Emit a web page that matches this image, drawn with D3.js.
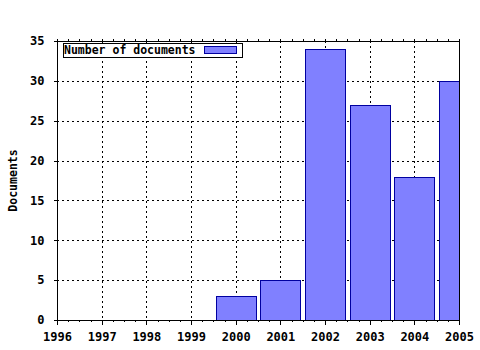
<!DOCTYPE html>
<html><head><meta charset="utf-8">
<script src="https://cdn.jsdelivr.net/npm/d3@7"></script>
<style>body{margin:0;background:#fff}svg{display:block}text{font-family:"DejaVu Sans Mono",monospace;font-weight:bold;font-size:11.5px;fill:#000}</style>
</head><body>
<script>
const years = [1996,1997,1998,1999,2000,2001,2002,2003,2004,2005];
const documents = [0,0,0,0,3,5,34,27,18,30];
const yTicks = [0,5,10,15,20,25,30,35];
const seriesName = "Number of documents";
const yLabel = "Documents";

const W=480,H=350, L=57,R=459,T=41,B=320;
const svg=d3.select("body").append("svg").attr("width",W).attr("height",H);
const x=d3.scaleLinear().domain([1996,2005]).range([L,R]);
const y=d3.scaleLinear().domain([0,35]).range([B,T]);

svg.append("defs").append("clipPath").attr("id","c").append("rect").attr("x",L).attr("y",T).attr("width",R-L).attr("height",B-T);

// grid
const g=svg.append("g").attr("stroke","#000").attr("stroke-dasharray","2,3").attr("shape-rendering","crispEdges");
years.slice(1,-1).forEach(v=>g.append("line").attr("x1",Math.round(x(v))+0.5).attr("x2",Math.round(x(v))+0.5).attr("y1",T).attr("y2",B));
yTicks.slice(1,-1).forEach(v=>g.append("line").attr("x1",L).attr("x2",R).attr("y1",Math.round(y(v))+0.5).attr("y2",Math.round(y(v))+0.5));

// bars
const bw=0.9;
svg.append("g").attr("clip-path","url(#c)").selectAll("rect").data(years.map((yr,i)=>({yr,v:documents[i]})).filter(d=>d.v>0))
 .join("rect").attr("x",d=>Math.round(x(d.yr-bw/2))+0.5).attr("width",d=>Math.round(x(d.yr+bw/2))-Math.round(x(d.yr-bw/2)))
 .attr("y",d=>Math.round(y(d.v))+0.5).attr("height",d=>Math.round(y(0))-Math.round(y(d.v)))
 .attr("fill","#8080ff").attr("stroke","#0000a0").attr("stroke-width",1);

// axes
const ax=svg.append("g").attr("stroke","#000").attr("shape-rendering","crispEdges");
ax.append("rect").attr("x",L+0.5).attr("y",T+0.5).attr("width",R-L).attr("height",B-T).attr("fill","none");
const xb=d3.axisBottom(x).tickValues(years).tickFormat(d3.format("d")).tickSize(4).tickSizeOuter(0);
const xAxis=svg.append("g").attr("transform",`translate(0,${B+0.5})`).call(xb);
xAxis.select(".domain").remove();
xAxis.selectAll("text").attr("dy","0.75em").attr("y",11);
const minor=[];
for(let i=0;i<years.length-1;i++)for(let k=1;k<4;k++)minor.push(years[i]+k/4);
minor.forEach(m=>{
 ax.append("line").attr("x1",Math.round(x(m))+0.5).attr("x2",Math.round(x(m))+0.5).attr("y1",B).attr("y2",B+2);
});
years.concat(minor).forEach(m=>{
 ax.append("line").attr("x1",Math.round(x(m))+0.5).attr("x2",Math.round(x(m))+0.5).attr("y1",T-2).attr("y2",T);
});
const yl=d3.axisLeft(y).tickValues(yTicks).tickSize(4).tickSizeOuter(0);
const yAxis=svg.append("g").attr("transform",`translate(${L+0.5},0)`).call(yl);
yAxis.select(".domain").remove();
yAxis.selectAll("text").attr("x",-13);
svg.selectAll(".tick line").attr("shape-rendering","crispEdges");
svg.selectAll(".tick text").style("font-family",'"DejaVu Sans Mono",monospace').style("font-weight","bold").style("font-size","12px");

svg.append("text").attr("transform",`translate(17,${(T+B)/2}) rotate(-90)`).attr("text-anchor","middle").text(yLabel);

const lg=svg.append("g").attr("shape-rendering","crispEdges");
lg.append("rect").attr("x",63.5).attr("y",43.5).attr("width",179).attr("height",14).attr("fill","#fff").attr("stroke","#000");
lg.append("text").attr("x",64).attr("y",54).text(seriesName);
lg.append("rect").attr("x",204.5).attr("y",46.5).attr("width",32).attr("height",7).attr("fill","#8080ff").attr("stroke","#0000a0");
</script>
</body></html>
